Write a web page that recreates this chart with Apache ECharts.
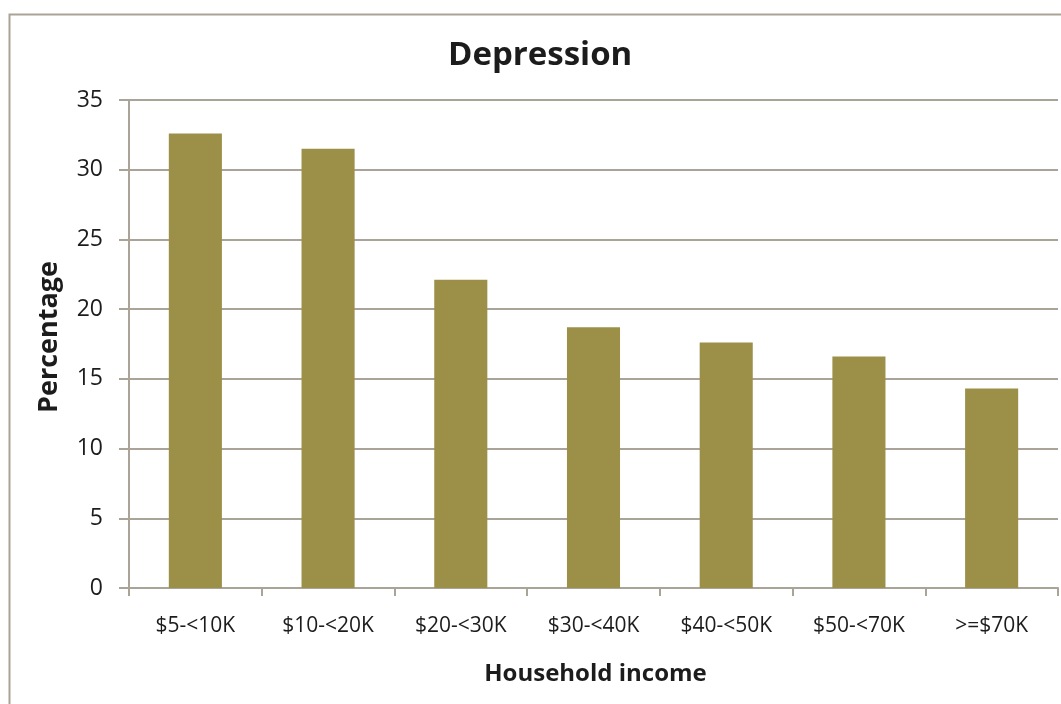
<!DOCTYPE html>
<html>
<head>
<meta charset="utf-8">
<script src="https://cdn.jsdelivr.net/npm/echarts@6/dist/echarts.min.js"></script>
<style>
  html, body { margin: 0; padding: 0; background: #fff; }
  #chart { width: 1061px; height: 704px; }
</style>
</head>
<body>
<div id="chart"></div>
<script>
var incomes = ['$5-<10K', '$10-<20K', '$20-<30K', '$30-<40K', '$40-<50K', '$50-<70K', '>=$70K'];
var percentages = [32.6, 31.5, 22.1, 18.7, 17.6, 16.6, 14.3];
var yTicks = [0, 5, 10, 15, 20, 25, 30, 35];

var myChart = echarts.init(document.getElementById('chart'));
var lineColor = '#aaa498';
var textColor = '#1c1c1c';
var font = 'Open Sans';

var option = {
    animation: false,
    title: {
        text: 'Depression',
        left: 443,
        top: 34,
        textStyle: { fontFamily: font, fontWeight: 'bold', fontSize: 33, color: textColor }
    },
    graphic: [{
        type: 'rect',
        shape: { x: 9.5, y: 14.5, width: 1200, height: 800 },
        style: { fill: 'none', stroke: lineColor, lineWidth: 2 },
        silent: true
    }],
    grid: { left: 129, right: 3, top: 100, bottom: 116 },
    xAxis: {
        type: 'category',
        data: incomes,
        name: 'Household income',
        nameLocation: 'middle',
        nameGap: 74,
        nameTextStyle: { fontFamily: font, fontWeight: 'bold', fontSize: 24, color: textColor, padding: [0, 0, 0, 4] },
        axisLine: { lineStyle: { color: lineColor, width: 2 } },
        axisTick: { show: true, alignWithLabel: false, length: 8, lineStyle: { color: lineColor, width: 2 } },
        axisLabel: { fontFamily: font, fontSize: 21, color: textColor, margin: 28, interval: 0 }
    },
    yAxis: {
        type: 'value',
        min: yTicks[0],
        max: yTicks[yTicks.length - 1],
        interval: 5,
        name: 'Percentage',
        nameLocation: 'middle',
        nameGap: 66,
        nameTextStyle: { fontFamily: font, fontWeight: 'bold', fontSize: 27, color: textColor, padding: [0, 0, 0, 14] },
        axisLine: { show: true, lineStyle: { color: lineColor, width: 2 } },
        axisTick: { show: true, length: 10, lineStyle: { color: lineColor, width: 2 } },
        axisLabel: { fontFamily: font, fontSize: 23, color: textColor, margin: 26 },
        splitLine: { lineStyle: { color: lineColor, width: 2 } }
    },
    series: [{
        type: 'bar',
        data: percentages,
        barWidth: '40%',
        itemStyle: { color: '#9c8f48' }
    }]
};

myChart.setOption(option);
</script>
</body>
</html>
